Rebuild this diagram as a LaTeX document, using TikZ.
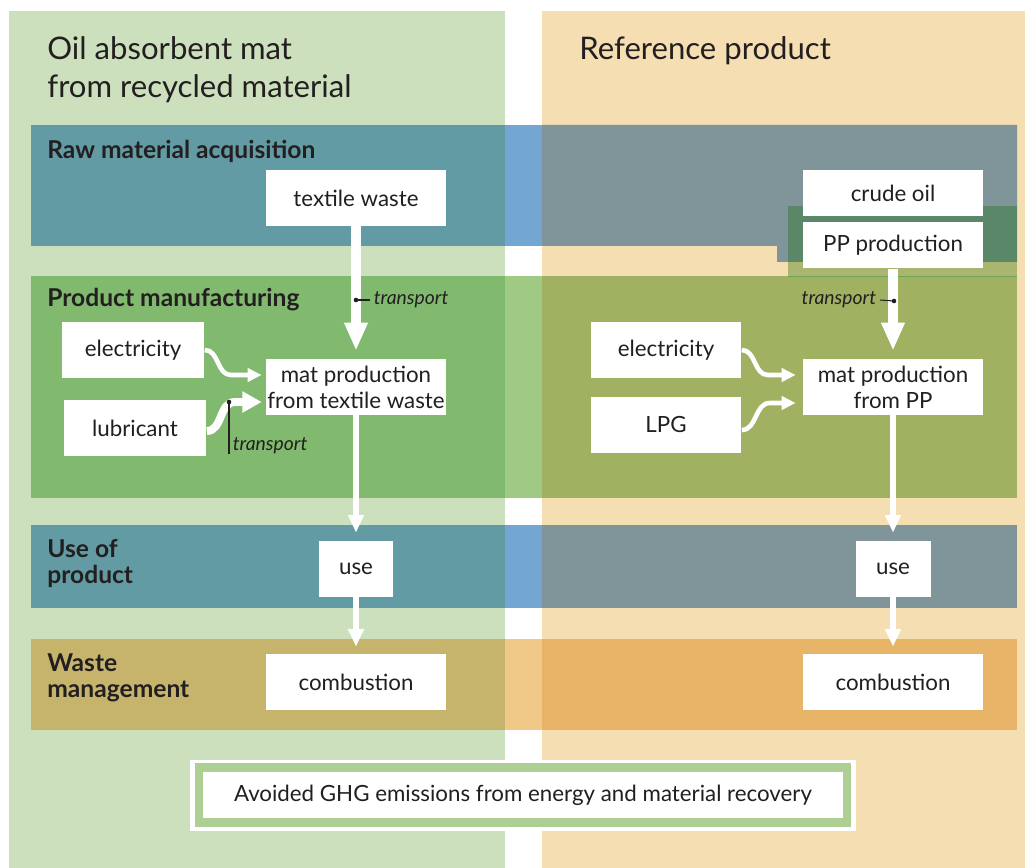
\documentclass[tikz,border=0pt]{standalone}
\usepackage{fontspec}
\setmainfont{Lato}
\usepackage{tikz}
\usetikzlibrary{arrows.meta, calc}
\definecolor{txtdark}{RGB}{35,31,32}
\definecolor{colgreen}{RGB}{205,224,189}
\definecolor{colorange}{RGB}{245,222,178}
\definecolor{rawleft}{RGB}{98,155,163}
\definecolor{rawmid}{RGB}{116,166,212}
\definecolor{rawright}{RGB}{127,149,153}
\definecolor{manleft}{RGB}{129,186,110}
\definecolor{manmid}{RGB}{160,202,132}
\definecolor{manright}{RGB}{160,178,98}
\definecolor{wasteleft}{RGB}{198,180,108}
\definecolor{wastemid}{RGB}{240,200,136}
\definecolor{wasteright}{RGB}{232,180,104}
\definecolor{ppdark}{RGB}{90,135,104}
\definecolor{pplight}{RGB}{170,182,112}
\definecolor{ppline}{RGB}{110,165,85}
\definecolor{avgreen}{RGB}{174,207,148}
\tikzset{
  box/.style={rectangle, fill=white, inner sep=0pt, minimum height=1.12cm, align=center, text=txtdark, font=\fontsize{12.7}{14.8}\selectfont},
  title/.style={anchor=west, inner sep=0pt, align=left, text=txtdark, font=\fontsize{17.7}{21.5}\selectfont},
  stage/.style={anchor=west, inner sep=0pt, align=left, text=txtdark, font=\bfseries\fontsize{14}{14.8}\selectfont},
  note/.style={inner sep=0pt, inner xsep=2pt, text=txtdark, font=\itshape\fontsize{11}{12}\selectfont},
  bigflow/.style={white, line width=5.2pt, -{Triangle[width=12.5pt, length=16pt]}},
  thinflow/.style={white, line width=3pt, -{Triangle[width=8.5pt, length=10pt]}},
  inflow/.style={white, line width=2.6pt, -{Triangle[width=7.5pt, length=8pt]}},
  fatflow/.style={white, line width=4.5pt, -{Triangle[width=11.5pt, length=11pt]}},
  tick/.style={txtdark, line width=0.6pt}
}
\begin{document}
\begin{tikzpicture}[x=0.02cm, y=-0.02cm]
  \useasboundingbox (0,0) rectangle (1025,868);

  % Columns
  \fill[colgreen] (9,11) rectangle (505,868);
  \fill[colorange] (542,11) rectangle (1025,868);

  % Stage bands
  \fill[rawleft] (31,125) rectangle (505,246);
  \fill[rawmid] (505,125) rectangle (542,246);
  \fill[rawright] (542,125) -- (1017,125) -- (1017,262) -- (777,262) -- (777,246) -- (542,246) -- cycle;
  \fill[ppdark] (788,206) rectangle (1017,262);
  \fill[pplight] (788,262) rectangle (1017,276);

  \fill[manleft] (31,276) rectangle (505,498);
  \fill[manmid] (505,276) rectangle (542,498);
  \fill[manright] (542,276) rectangle (1017,498);
  \draw[ppline, line width=0.5pt] (788,276) -- (1017,276);

  \fill[rawleft] (31,525) rectangle (505,608);
  \fill[rawmid] (505,525) rectangle (542,608);
  \fill[rawright] (542,525) rectangle (1017,608);

  \fill[wasteleft] (31,639) rectangle (505,730);
  \fill[wastemid] (505,639) rectangle (542,730);
  \fill[wasteright] (542,639) rectangle (1017,730);

  % Titles and stage names
  \node[title] (titleL) at (47,70) {Oil absorbent mat\\from recycled material};
  \node[title] (titleR) at (579,51) {Reference product};
  \node[stage] (raw) at (47,151) {Raw material acquisition};
  \node[stage] (man) at (47,300) {Product manufacturing};
  \node[stage] (usestage) at (47,564) {Use of\\product};
  \node[stage] (waste) at (47,678) {Waste\\management};

  % Recycled mat chain
  \node[box, minimum width=3.6cm] (textile) at (356,198) {textile waste};
  \node[box, minimum width=2.86cm] (elecL) at (133,350) {electricity};
  \node[box, minimum width=2.86cm] (lubri) at (135,428) {lubricant};
  \node[box, minimum width=3.6cm] (matL) at (356,387) {mat production\\from textile waste};
  \node[box, minimum width=1.5cm] (useL) at (356,569) {use};
  \node[box, minimum width=3.6cm] (combL) at (356,682) {combustion};

  % Reference chain
  \node[box, minimum width=3.6cm, minimum height=0.94cm] (crude) at (893,193) {crude oil};
  \node[box, minimum width=3.6cm, minimum height=0.94cm] (ppprod) at (893,245) {PP production};
  \node[box, minimum width=3.02cm] (elecR) at (666,350) {electricity};
  \node[box, minimum width=3.02cm] (lpg) at (666,425) {LPG};
  \node[box, minimum width=3.6cm] (matR) at (893,387) {mat production\\from PP};
  \node[box, minimum width=1.5cm] (useR) at (893,569) {use};
  \node[box, minimum width=3.6cm] (combR) at (893,682) {combustion};

  % Flows
  \draw[bigflow] (textile) -- ($(matL.north)+(0,-8)$);
  \draw[inflow] (elecL.east) to[out=0, in=180] ++(26,25) -- ($(matL.west)+(-4,-12)$);
  \draw[fatflow] ($(lubri.east)+(0,3)$) to[out=0, in=180] ++(28,-29) -- ($(matL.west)+(-4,15)$);
  \draw[thinflow] (matL) -- ($(useL.north)+(0,-8)$);
  \draw[thinflow] (useL) -- ($(combL.north)+(0,-7)$);

  \draw[bigflow] (ppprod) -- ($(matR.north)+(0,-8)$);
  \draw[inflow] (elecR.east) to[out=0, in=180] ++(26,25) -- ($(matR.west)+(-7,-12)$);
  \draw[inflow] ($(lpg.east)+(0,5)$) to[out=0, in=180] ++(28,-27) -- ($(matR.west)+(-7,16)$);
  \draw[thinflow] (matR) -- ($(useR.north)+(0,-8)$);
  \draw[thinflow] (useR) -- ($(combR.north)+(0,-7)$);

  % Transport notes
  \coordinate (tA) at (356,300);
  \node[note, anchor=west] (transA) at (370,300) {transport};
  \draw[tick] (tA) -- (transA.west);
  \fill[txtdark] (tA) circle (1.3pt);

  \coordinate (tB) at (229,402);
  \node[note, anchor=south west] (transB) at (229,454) {transport};
  \draw[tick] (tB) -- (transB.south west);
  \fill[txtdark] (tB) circle (1.3pt);

  \coordinate (tC) at (894,301);
  \node[note, anchor=east] (transC) at (880,300) {transport};
  \draw[tick] (transC.east) -- (tC);
  \fill[txtdark] (tC) circle (1.3pt);

  % Avoided emissions
  \fill[white] (190,760) rectangle (856,831);
  \fill[avgreen] (195,763) rectangle (851,827);
  \node[box, minimum width=12.8cm, minimum height=0.92cm] (avoided) at (523,795) {Avoided GHG emissions from energy and material recovery};
\end{tikzpicture}
\end{document}
